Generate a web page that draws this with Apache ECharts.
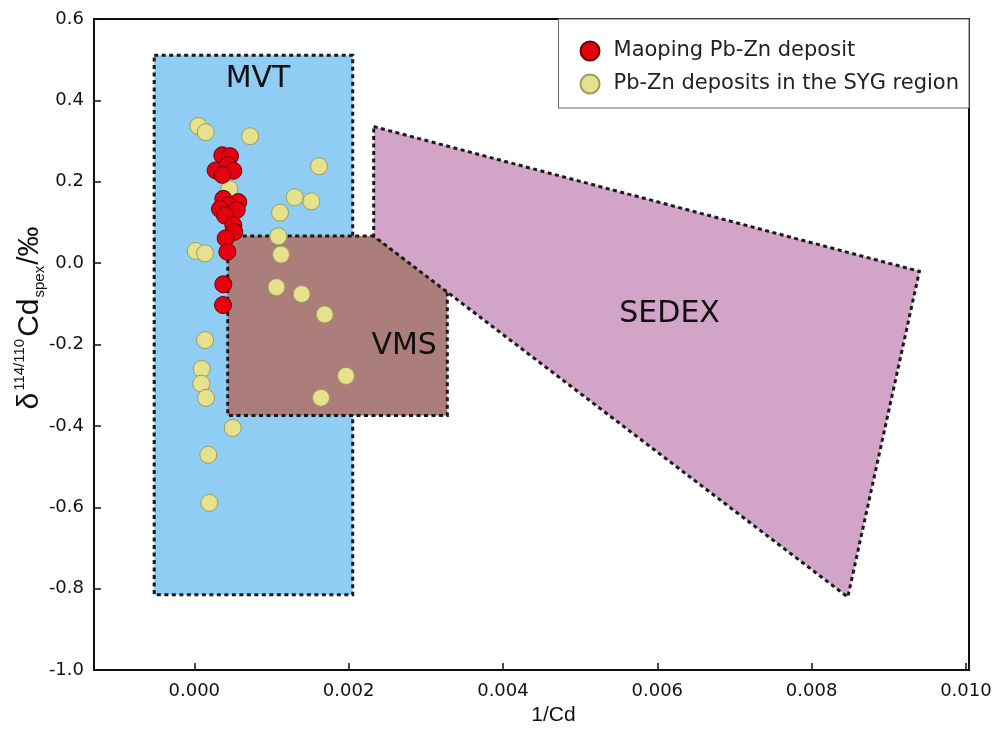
<!DOCTYPE html>
<html>
<head>
<meta charset="utf-8">
<script src="https://cdn.jsdelivr.net/npm/echarts@6/dist/echarts.min.js"></script>
<style>html,body{margin:0;padding:0;background:#fff;}#c{width:995px;height:731px;}</style>
</head>
<body>
<div id="c"></div>
<script>
// ---- data ----
const maopingPoints = [
  [0.000363, 0.265], [0.000463, 0.263], [0.000277, 0.228], [0.000433, 0.241],
  [0.000506, 0.227], [0.000363, 0.217], [0.000376, 0.158], [0.000570, 0.150],
  [0.000440, 0.142], [0.000333, 0.133], [0.000550, 0.131], [0.000398, 0.117],
  [0.000506, 0.093], [0.000518, 0.077], [0.000407, 0.061], [0.000428, 0.028],
  [0.000376, -0.052], [0.000372, -0.103]
];
const sygPoints = [
  [0.000052, 0.337], [0.000148, 0.322], [0.000722, 0.312], [0.001616, 0.238],
  [0.000454, 0.182], [0.001301, 0.162], [0.001517, 0.152], [0.001111, 0.124],
  [0.001089, 0.066], [0.001124, 0.021], [0.000018, 0.030], [0.000139, 0.024],
  [0.001065, -0.059], [0.001392, -0.076], [0.001690, -0.126], [0.000139, -0.189],
  [0.000096, -0.260], [0.000091, -0.296], [0.000152, -0.331], [0.001966, -0.277],
  [0.001642, -0.331], [0.000498, -0.405], [0.000181, -0.471], [0.000194, -0.589]
];
const mvtPolygon = [[-0.00052, 0.511], [0.002053, 0.511], [0.002053, -0.815], [-0.00052, -0.815]];
const vmsPolygon = [[0.000433, 0.0665], [0.002325, 0.0665], [0.003279, -0.0631], [0.003279, -0.3743], [0.000433, -0.3743]];
const sedexPolygon = [[0.002325, 0.3357], [0.009397, -0.0201], [0.008469, -0.8206], [0.002325, 0.0665]];
const regionNames = ['MVT', 'VMS', 'SEDEX'];
const regionLabelAt = [[0.000826, 0.453], [0.002720, -0.204], [0.006160, -0.125]];
const xTickValues = [0, 0.002, 0.004, 0.006, 0.008, 0.010];
const seriesNames = ['Maoping Pb-Zn deposit', 'Pb-Zn deposits in the SYG region'];

const FONT = '"Liberation Sans", Arial, Helvetica, sans-serif';
const WIDE = '"DejaVu Sans", Verdana, sans-serif';

function regionSeries(poly, name, labelPos, fill) {
  return {
    type: 'custom',
    coordinateSystem: 'cartesian2d',
    silent: true,
    clip: true,
    z: 1,
    data: [labelPos],
    encode: { x: 0, y: 1 },
    renderItem: function (params, api) {
      const pts = poly.map(p => api.coord(p));
      const lp = api.coord([api.value(0), api.value(1)]);
      return {
        type: 'group',
        children: [
          { type: 'polygon', shape: { points: pts },
            style: { fill: fill, stroke: '#1a1a1a', lineWidth: 3, lineDash: [4, 3.5] } },
          { type: 'text', x: lp[0], y: lp[1],
            style: { text: name, fontSize: 30, fontFamily: WIDE, fill: '#111', align: 'center', verticalAlign: 'middle' } }
        ]
      };
    }
  };
}

const chart = echarts.init(document.getElementById('c'), null, { renderer: 'canvas' });
chart.setOption({
  animation: false,
  backgroundColor: '#fff',
  grid: { left: 94, right: 26, top: 19, bottom: 52, show: true, borderColor: '#111', borderWidth: 2, containLabel: false },
  xAxis: {
    type: 'value', min: -0.0013, max: 0.01004,
    name: '1/Cd', nameLocation: 'middle', nameGap: 33,
    nameTextStyle: { fontSize: 21, fontFamily: FONT, color: '#111', padding: [0, 0, 0, 44] },
    axisLine: { onZero: false, lineStyle: { color: '#111', width: 2 } },
    axisTick: { inside: true, length: 7, lineStyle: { color: '#111', width: 1.5 }, customValues: xTickValues },
    axisLabel: { customValues: xTickValues, margin: 12, fontSize: 18, fontFamily: WIDE, color: '#111',
      formatter: v => v.toFixed(3) },
    splitLine: { show: false }
  },
  yAxis: {
    type: 'value', min: -1.0, max: 0.6, interval: 0.2,
    axisLine: { onZero: false, lineStyle: { color: '#111', width: 2 } },
    axisTick: { inside: true, length: 7, lineStyle: { color: '#111', width: 1.5 } },
    axisLabel: { margin: 10, fontSize: 18, fontFamily: WIDE, color: '#111',
      formatter: v => v.toFixed(1) },
    splitLine: { show: false }
  },
  legend: {
    data: seriesNames,
    orient: 'vertical', right: 26, top: 19,
    backgroundColor: '#fff', borderColor: '#666', borderWidth: 1,
    padding: [21, 10, 13, 21],
    itemGap: 11, itemWidth: 19, itemHeight: 19, icon: 'circle',
    textStyle: { fontSize: 21, fontFamily: WIDE, color: '#222', padding: [0, 0, 0, 9], lineHeight: 22 }
  },
  graphic: [{
    type: 'text', x: 30, y: 318, rotation: Math.PI / 2,
    style: {
      text: '{b|δ}{sup|114/110}{b|Cd}{sub|spex}{b|/‰}',
      align: 'center', verticalAlign: 'middle', fill: '#111', fontFamily: FONT,
      rich: {
        b: { fontSize: 30, fontFamily: FONT, fill: '#111', lineHeight: 35 },
        sup: { fontSize: 15, fontFamily: FONT, fill: '#111', verticalAlign: 'top', lineHeight: 35, padding: [0, 2, 14, 2] },
        sub: { fontSize: 15, fontFamily: FONT, fill: '#111', verticalAlign: 'bottom', lineHeight: 35, padding: [12, 1, 0, 1] }
      }
    }
  }],
  series: [
    regionSeries(mvtPolygon, regionNames[0], regionLabelAt[0], '#8fcdf5'),
    regionSeries(vmsPolygon, regionNames[1], regionLabelAt[1], '#ac7e7b'),
    regionSeries(sedexPolygon, regionNames[2], regionLabelAt[2], '#d2a4c8'),
    {
      name: seriesNames[1], type: 'scatter', z: 3, symbol: 'circle', symbolSize: 17,
      data: sygPoints,
      itemStyle: { color: '#e5e18c', borderColor: '#9c9c5c', borderWidth: 1, opacity: 1 }
    },
    {
      name: seriesNames[0], type: 'scatter', z: 4, symbol: 'circle', symbolSize: 17,
      data: maopingPoints,
      itemStyle: { color: '#e5000f', borderColor: '#6a0000', borderWidth: 1, opacity: 1 }
    }
  ]
});
</script>
</body>
</html>
